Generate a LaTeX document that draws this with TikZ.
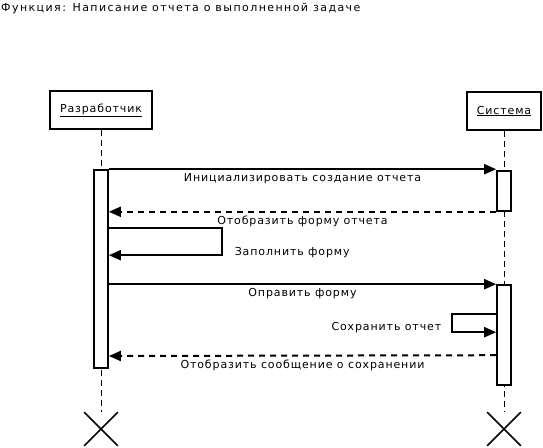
\documentclass[tikz,border=0pt]{standalone}
\usepackage{fontspec}
\setmainfont{DejaVu Sans}[LetterSpace=8]
\usetikzlibrary{arrows.meta, positioning, calc, shapes.misc}

\begin{document}
\begin{tikzpicture}[
    x=1pt, y=-1pt,
    font=\fontsize{11}{13}\selectfont,
    actor/.style={
      rectangle, draw, line width=1.8pt, fill=white,
      minimum height=38pt, inner sep=0pt
    },
    act/.style={
      rectangle, draw, line width=1.6pt, fill=white,
      minimum width=14pt, inner sep=0pt
    },
    life/.style={line width=1pt, dash pattern=on 6pt off 4pt},
    msg/.style={-{Triangle[length=12pt, width=10pt]}, line width=2pt},
    reply/.style={msg, dash pattern=on 6pt off 5pt},
    mlabel/.style={inner sep=0pt, text height=8pt, text depth=2pt},
    endmark/.style={cross out, draw, line width=1.6pt, minimum size=32pt, inner sep=0pt},
  ]
  \useasboundingbox (0,0) rectangle (543,447);

  \node[anchor=base west, inner sep=0pt] (title) at (1,12)
    {\addfontfeature{LetterSpace=13}Функция: Написание отчета о выполненной задаче};

  % actors
  \node[actor, minimum width=102pt] (dev) at (101,110) {\underline{Разработчик}};
  \node[actor, minimum width=74pt] (sys) at (504,111) {\underline{Система}};

  \node[endmark] (devend) at (101,429) {};
  \node[endmark] (sysend) at (504,429) {};

  % lifelines
  \draw[life] (dev.south) -- (devend.north);
  \draw[life] (sys.south) -- (sysend.north);

  % activations
  \node[act, minimum height=198pt] (devact) at (101,269) {};
  \node[act, minimum height=40pt] (sysact1) at (504,191) {};
  \node[act, minimum height=100pt] (sysact2) at (504,335) {};

  % messages
  \draw[msg] (devact.north east) -- (devact.north east -| sysact1.west)
    node[mlabel, midway, below=3.5pt] (m1) {Инициализировать создание отчета};
  \draw[reply] (sysact1.south west) -- (sysact1.south west -| devact.east)
    node[mlabel, midway, below=3.5pt] (m2) {Отобразить форму отчета};
  \draw[msg] ($(devact.north east)+(0,59)$) -- ++(113,0) -- ++(0,27)
    node[mlabel, pos=1, anchor=base west, xshift=12pt] (m3) {Заполнить форму} -- ++(-113,0);
  \draw[msg] (sysact2.north west -| devact.east) -- (sysact2.north west)
    node[mlabel, midway, below=3.5pt] (m4) {Оправить форму};
  \draw[msg] ($(sysact2.north west)+(0,30)$) -- ++(-44,0) -- ++(0,18)
    node[mlabel, pos=1, anchor=base east, xshift=-10pt, yshift=1.5pt] (m5) {Сохранить отчет} -- ++(44,0);
  \draw[reply] ($(sysact2.north west)+(0,71)$) -- ($(devact.east)+(0,87)$)
    node[mlabel, midway, below=3.5pt] (m6) {Отобразить сообщение о сохранении};
\end{tikzpicture}
\end{document}
